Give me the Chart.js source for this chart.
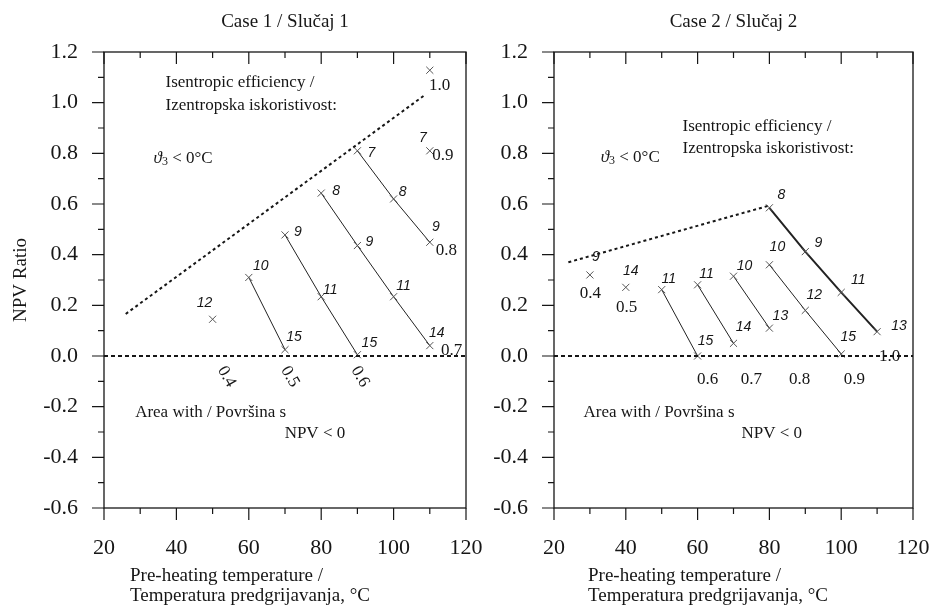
<!DOCTYPE html>
<html lang="en">
<head>
  <meta charset="UTF-8" />
  <title>NPV Ratio vs pre-heating temperature</title>
  <script src="https://cdn.jsdelivr.net/npm/chart.js"></script>
  <style>
    body { margin: 0; background: #fff; }
    .wrap { position: relative; width: 931px; height: 608px; }
    #case1 { position: absolute; left: 0; top: 0; }
    #case2 { position: absolute; left: 488px; top: 0; }
  </style>
</head>
<body>
  <div class="wrap">
    <canvas id="case1" width="488" height="608"></canvas>
    <canvas id="case2" width="443" height="608"></canvas>
  </div>

  <script>
    // ---- values ----
    const xTicks = [20, 40, 60, 80, 100, 120];
    const xMinor = [30, 50, 70, 90, 110];
    const yTicks = [-0.6, -0.4, -0.2, 0, 0.2, 0.4, 0.6, 0.8, 1.0, 1.2];
    const yMinor = [-0.5, -0.3, -0.1, 0.1, 0.3, 0.5, 0.7, 0.9, 1.1];

    const effLabels = ['0.4', '0.5', '0.6', '0.7', '0.8', '0.9', '1.0'];

    // Case 1 / Slučaj 1
    const case1Temp = [[50], [60, 70], [70, 80, 90], [80, 90, 100, 110], [90, 100, 110], [110], [110]];
    const case1Npv  = [[0.145], [0.31, 0.025], [0.478, 0.234, 0.005], [0.643, 0.436, 0.234, 0.041], [0.81, 0.62, 0.449], [0.81], [1.128]];
    const case1Num  = [[12], [10, 15], [9, 11, 15], [8, 9, 11, 14], [7, 8, 9], [7], [null]];
    const case1BoundX = [26, 108.6];
    const case1BoundY = [0.166, 1.03];

    // Case 2 / Slučaj 2
    const case2Temp = [[30], [40], [50, 60], [60, 70], [70, 80], [80, 90, 100], [80, 90, 100, 110]];
    const case2Npv  = [[0.32], [0.271], [0.262, 0.0], [0.281, 0.05], [0.315, 0.11], [0.36, 0.18, 0.008], [0.585, 0.412, 0.251, 0.096]];
    const case2Num  = [[9], [14], [11, 15], [11, 14], [10, 13], [10, 12, 15], [8, 9, 11, 13]];
    const case2BoundX = [24, 80];
    const case2BoundY = [0.37, 0.594];

    // ---- label placement (pixel offsets from the marker / data anchors) ----
    const case1NumOff = [[[-8, -16]], [[12, -11], [9, -13]], [[13, -3], [9, -7], [12, -12]],
      [[15, -2], [12, -3], [10, -11], [7, -13]], [[14, 2], [9, -7], [6, -15]], [[-7, -13]], [[0, 0]]];
    const case1EffPos = [[52.4, -0.045, 60], [69.9, -0.045, 60], [89.3, -0.045, 60],
      [116, 0.021, 0], [114.6, 0.416, 0], [113.6, 0.792, 0], [112.7, 1.068, 0]];

    const case2NumOff = [[[6, -18]], [[5, -16]], [[7, -11], [8, -15]], [[9, -11], [10, -16]],
      [[11, -10], [11, -12]], [[8, -18], [9, -15], [7, -17]], [[12, -13], [13, -9], [17, -12], [22, -6]]];
    const case2EffPos = [[30.1, 0.245, 0], [40.2, 0.19, 0], [62.8, -0.091, 0], [75, -0.091, 0],
      [88.4, -0.091, 0], [103.7, -0.091, 0], [113.5, -0.003, 0]];

    const serif = "'Liberation Serif', 'Times New Roman', serif";
    const sans = "'Liberation Sans', Arial, sans-serif";
    const ink = '#161616';

    function makeOverlay(cfg) {
      return {
        id: 'overlay',
        afterDatasetsDraw(chart) {
          const { ctx, chartArea: a, scales: { x, y } } = chart;
          ctx.save();
          ctx.strokeStyle = ink;
          ctx.fillStyle = ink;

          // frame
          ctx.lineWidth = 1.3;
          ctx.strokeRect(a.left, a.top, a.right - a.left, a.bottom - a.top);

          // tick marks: out on left/bottom, in at the top
          ctx.lineWidth = 1.2;
          ctx.beginPath();
          const xt = (v, len) => {
            const p = x.getPixelForValue(v);
            ctx.moveTo(p, a.bottom); ctx.lineTo(p, a.bottom + len);
            ctx.moveTo(p, a.top); ctx.lineTo(p, a.top + len);
          };
          const yt = (v, len) => {
            const p = y.getPixelForValue(v);
            ctx.moveTo(a.left - len, p); ctx.lineTo(a.left, p);
          };
          xTicks.forEach(v => xt(v, 12));
          xMinor.forEach(v => xt(v, 6));
          yTicks.forEach(v => yt(v, 12));
          yMinor.forEach(v => yt(v, 6));
          ctx.stroke();

          // title
          ctx.textBaseline = 'middle';
          ctx.textAlign = 'center';
          ctx.font = `19px ${serif}`;
          ctx.fillText(cfg.title, (a.left + a.right) / 2, 22);

          // x axis title
          ctx.textAlign = 'left';
          ctx.font = `19px ${serif}`;
          ctx.fillText('Pre-heating temperature /', a.left + cfg.xTitleDx, 576);
          ctx.fillText('Temperatura predgrijavanja, °C', a.left + cfg.xTitleDx, 596);

          // notes
          ctx.font = `17px ${serif}`;
          const note = (t, vx, vy) => ctx.fillText(t, x.getPixelForValue(vx), y.getPixelForValue(vy));
          note('Isentropic efficiency /', cfg.noteX, cfg.noteY);
          note('Izentropska iskoristivost:', cfg.noteX, cfg.noteY - cfg.noteGap);
          note('Area with / Površina s', cfg.areaX, -0.223);
          note('NPV < 0', cfg.npvX, -0.306);

          // theta_3 < 0 °C
          let tx = x.getPixelForValue(cfg.thetaX);
          const ty = y.getPixelForValue(cfg.thetaY);
          ctx.font = `italic 17px ${serif}`;
          ctx.fillText('ϑ', tx, ty);
          tx += ctx.measureText('ϑ').width;
          ctx.font = `12px ${serif}`;
          ctx.fillText('3', tx, ty + 4);
          tx += ctx.measureText('3').width;
          ctx.font = `17px ${serif}`;
          ctx.fillText(' < 0°C', tx, ty);

          // italic numbers next to the markers
          ctx.font = `italic 14px ${sans}`;
          ctx.textAlign = 'center';
          cfg.temp.forEach((ts, k) => {
            ts.forEach((t, i) => {
              const n = cfg.num[k][i];
              if (n === null) return;
              const [dx, dy] = cfg.numOff[k][i];
              ctx.fillText(String(n), x.getPixelForValue(t) + dx, y.getPixelForValue(cfg.npv[k][i]) + dy);
            });
          });

          // efficiency labels
          ctx.font = `17px ${serif}`;
          cfg.effPos.forEach((p, k) => {
            const px = x.getPixelForValue(p[0]);
            const py = y.getPixelForValue(p[1]);
            ctx.save();
            ctx.translate(px, py);
            ctx.rotate(p[2] * Math.PI / 180);
            ctx.textAlign = p[2] ? 'left' : 'center';
            ctx.fillText(effLabels[k], 0, 0);
            ctx.restore();
          });

          ctx.restore();
        }
      };
    }

    function makeChart(id, cfg) {
      const datasets = [
        {
          label: 'NPV = 0',
          data: [{ x: 20, y: 0 }, { x: 120, y: 0 }],
          showLine: true, borderColor: ink, borderWidth: 2, borderDash: [4, 3], pointRadius: 0
        },
        {
          label: 'ϑ3 < 0 °C',
          data: cfg.boundX.map((v, i) => ({ x: v, y: cfg.boundY[i] })),
          showLine: true, borderColor: ink, borderWidth: 2, borderDash: [3, 3], pointRadius: 0
        }
      ];
      cfg.temp.forEach((ts, k) => {
        datasets.push({
          label: 'η = ' + effLabels[k],
          data: ts.map((t, i) => ({ x: t, y: cfg.npv[k][i] })),
          showLine: ts.length > 1,
          borderColor: '#222',
          borderWidth: cfg.thick === k ? 2 : 1,
          pointStyle: 'crossRot',
          pointRadius: 5,
          pointBorderColor: '#555',
          pointBorderWidth: 1
        });
      });

      return new Chart(document.getElementById(id), {
        type: 'scatter',
        data: { datasets },
        options: {
          responsive: false,
          animation: false,
          layout: { padding: { left: 0, right: cfg.padRight, top: 52, bottom: 30 } },
          plugins: { legend: { display: false }, tooltip: { enabled: false } },
          scales: {
            x: {
              type: 'linear', min: 20, max: 120,
              ticks: { stepSize: 20, autoSkip: false, maxRotation: 0, padding: 0, color: ink, font: { family: serif, size: 22 } },
              // tick marks are drawn by the overlay; tickLength only spaces the labels
              grid: { display: false, drawTicks: true, tickLength: 27 },
              border: { display: false },
              afterFit(axis) { axis.height = 70; }
            },
            y: {
              min: -0.6, max: 1.2,
              ticks: {
                stepSize: 0.2, padding: 0, color: ink, font: { family: serif, size: 22 },
                callback: v => (Math.abs(v) < 1e-9 ? 0 : v).toFixed(1)
              },
              grid: { display: false, drawTicks: true, tickLength: 26 },
              border: { display: false },
              title: { display: cfg.yTitle, text: 'NPV Ratio', color: ink, font: { family: serif, size: 19 }, padding: { top: 10, bottom: 0 } },
              afterFit(axis) { axis.width = cfg.yWidth; }
            }
          }
        },
        plugins: [makeOverlay(cfg)]
      });
    }

    makeChart('case1', {
      title: 'Case 1 / Slučaj 1',
      temp: case1Temp, npv: case1Npv, num: case1Num, numOff: case1NumOff, effPos: case1EffPos,
      boundX: case1BoundX, boundY: case1BoundY,
      yTitle: true, yWidth: 104, padRight: 22, xTitleDx: 26,
      noteX: 37, noteY: 1.081, noteGap: 0.092, thetaX: 33.7, thetaY: 0.781,
      areaX: 28.6, npvX: 69.9, thick: -1
    });

    makeChart('case2', {
      title: 'Case 2 / Slučaj 2',
      temp: case2Temp, npv: case2Npv, num: case2Num, numOff: case2NumOff, effPos: case2EffPos,
      boundX: case2BoundX, boundY: case2BoundY,
      yTitle: false, yWidth: 66, padRight: 18, xTitleDx: 34,
      noteX: 55.8, noteY: 0.904, noteGap: 0.086, thetaX: 33, thetaY: 0.785,
      areaX: 28.2, npvX: 72.2, thick: 6
    });
  </script>
</body>
</html>
